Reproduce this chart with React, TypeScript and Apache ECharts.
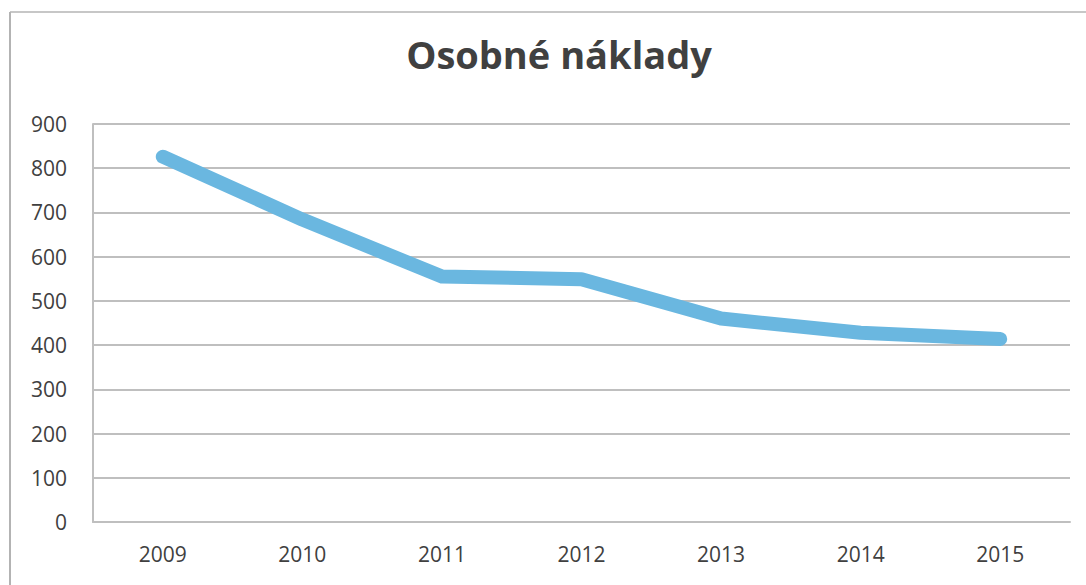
import React, { useEffect, useRef } from "react";
import * as echarts from "echarts";

const years = ["2009", "2010", "2011", "2012", "2013", "2014", "2015"];
const costs = [826, 684, 555, 549, 460, 428, 414];
const chartTitle = "Osobné náklady";

export default function App() {
  const ref = useRef<HTMLDivElement>(null);
  useEffect(() => {
    if (!ref.current) return;
    const chart = echarts.init(ref.current, null, { renderer: "svg" });
    chart.setOption({
      animation: false,
      backgroundColor: "#ffffff",
      title: {
        text: chartTitle,
        left: 554,
        textAlign: "center",
        top: 30,
        textStyle: {
          fontFamily: "Open Sans",
          fontWeight: "bold",
          fontSize: 38,
          color: "#404040",
        },
      },
      grid: { left: 93, right: 16, top: 124, bottom: 63 },
      xAxis: {
        type: "category",
        data: years,
        boundaryGap: true,
        axisLine: { show: true, lineStyle: { color: "#bfbfbf", width: 2 } },
        axisTick: { show: false },
        axisLabel: {
          fontFamily: "Open Sans",
          fontSize: 21,
          color: "#404040",
          margin: 21,
        },
      },
      yAxis: {
        type: "value",
        min: 0,
        max: 900,
        interval: 100,
        axisLine: { show: true, lineStyle: { color: "#bfbfbf", width: 2 } },
        axisTick: { show: false },
        splitLine: { lineStyle: { color: "#bfbfbf", width: 2 } },
        axisLabel: {
          fontFamily: "Open Sans",
          fontSize: 21,
          color: "#404040",
          margin: 26,
        },
      },
      series: [
        {
          type: "line",
          data: costs,
          showSymbol: false,
          lineStyle: { color: "#6ab7e0", width: 14, cap: "round", join: "round" },
        },
      ],
      graphic: [
        {
          type: "line",
          shape: { x1: 10, y1: 12, x2: 10, y2: 585 },
          style: { stroke: "#9a9a9a", lineWidth: 1.5 },
        },
        {
          type: "line",
          shape: { x1: 10, y1: 12, x2: 1086, y2: 12 },
          style: { stroke: "#b5b5b5", lineWidth: 1.5 },
        },
      ],
    });
    return () => chart.dispose();
  }, []);
  return (
    <div
      ref={ref}
      style={{ position: "fixed", left: 0, top: 0, width: 1086, height: 585 }}
    />
  );
}
